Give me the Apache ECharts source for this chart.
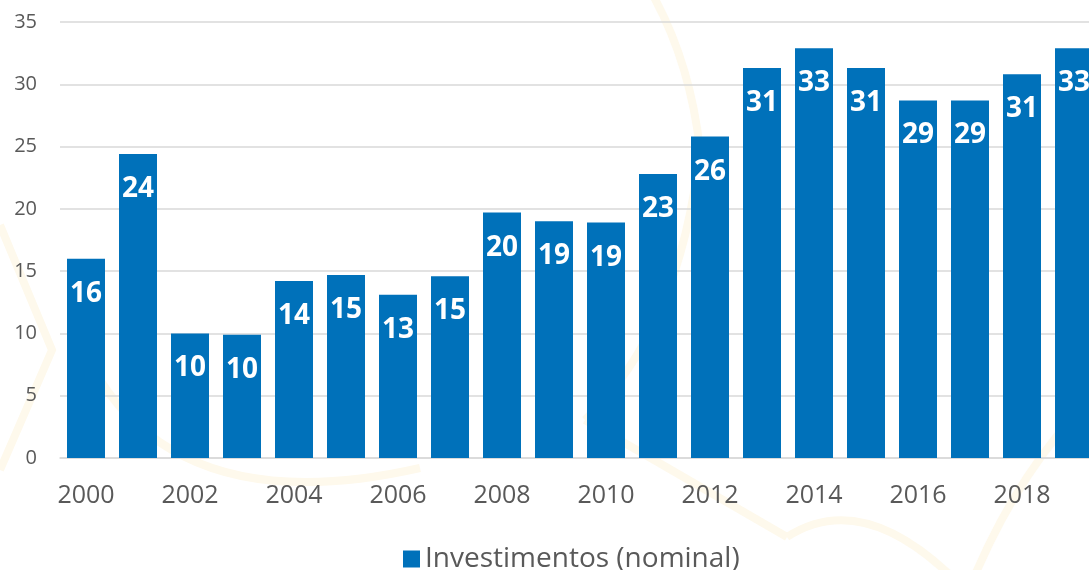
<!DOCTYPE html>
<html>
<head>
<meta charset="utf-8">
<script src="https://cdn.jsdelivr.net/npm/echarts@6/dist/echarts.min.js"></script>
<style>
  html, body { margin: 0; padding: 0; background: #ffffff; overflow: hidden; width: 1089px; height: 570px; }
  #chart { width: 1100px; height: 570px; }
</style>
</head>
<body>
<div id="chart"></div>
<script>
const years = ['2000','2001','2002','2003','2004','2005','2006','2007','2008','2009',
               '2010','2011','2012','2013','2014','2015','2016','2017','2018','2019'];
const investimentos = [16.0, 24.4, 10.0, 9.9, 14.2, 14.7, 13.1, 14.6, 19.7, 19.0,
                       18.9, 22.8, 25.8, 31.3, 32.9, 31.3, 28.7, 28.7, 30.8, 32.9];
const seriesName = 'Investimentos (nominal)';

const wm = '#fef9ec';
const chart = echarts.init(document.getElementById('chart'), null, { renderer: 'canvas' });
chart.setOption({
  backgroundColor: '#ffffff',
  animation: false,
  textStyle: { fontFamily: 'Open Sans' },
  graphic: [
    { type: 'bezierCurve', z: -10, silent: true,
      shape: { x1: 650, y1: -10, x2: 700, y2: 150, cpx1: 690, cpy1: 60 },
      style: { stroke: wm, lineWidth: 8, fill: null } },
    { type: 'bezierCurve', z: -10, silent: true,
      shape: { x1: 700, y1: 150, x2: 585, y2: 420, cpx1: 680, cpy1: 330 },
      style: { stroke: wm, lineWidth: 8, fill: null } },
    { type: 'line', z: -10, silent: true,
      shape: { x1: 585, y1: 420, x2: 787, y2: 537 },
      style: { stroke: wm, lineWidth: 8 } },
    { type: 'bezierCurve', z: -10, silent: true,
      shape: { x1: 787, y1: 537, x2: 950, y2: 575, cpx1: 860, cpy1: 490 },
      style: { stroke: wm, lineWidth: 8, fill: null } },
    { type: 'bezierCurve', z: -10, silent: true,
      shape: { x1: 100, y1: 380, x2: 420, y2: 468, cpx1: 190, cpy1: 520 },
      style: { stroke: wm, lineWidth: 8, fill: null } },
    { type: 'polyline', z: -10, silent: true,
      shape: { points: [[0, 225], [52, 350], [0, 470]] },
      style: { stroke: wm, lineWidth: 8, fill: null } },
    { type: 'bezierCurve', z: -10, silent: true,
      shape: { x1: 1089, y1: 400, x2: 975, y2: 575, cpx1: 1020, cpy1: 470 },
      style: { stroke: wm, lineWidth: 8, fill: null } }
  ],
  grid: { left: 60, top: 22, width: 1040, height: 436, containLabel: false },
  legend: {
    data: [seriesName],
    left: 398,
    top: 540,
    icon: 'rect',
    itemWidth: 17,
    itemHeight: 17,
    itemGap: 10,
    textStyle: { fontSize: 28, color: '#595959', fontFamily: 'Open Sans' }
  },
  xAxis: {
    type: 'category',
    data: years,
    axisTick: { show: false },
    axisLine: { show: true, lineStyle: { color: '#d9d9d9', width: 1.5 } },
    axisLabel: { interval: 1, fontSize: 25, color: '#595959', margin: 25, fontFamily: 'Open Sans' }
  },
  yAxis: {
    type: 'value',
    min: 0,
    max: 35,
    interval: 5,
    axisLine: { show: false },
    axisTick: { show: false },
    splitLine: { show: true, lineStyle: { color: '#d9d9d9', width: 1.5 } },
    axisLabel: { fontSize: 20, color: '#595959', margin: 23, fontFamily: 'Open Sans' }
  },
  series: [{
    name: seriesName,
    type: 'bar',
    data: investimentos,
    barWidth: 38,
    itemStyle: { color: '#0071ba' },
    label: {
      show: true,
      position: 'insideTop',
      distance: 21,
      color: '#ffffff',
      fontWeight: 'bold',
      fontSize: 28,
      fontFamily: 'Open Sans',
      formatter: p => String(Math.round(p.value))
    }
  }]
});
</script>
</body>
</html>
